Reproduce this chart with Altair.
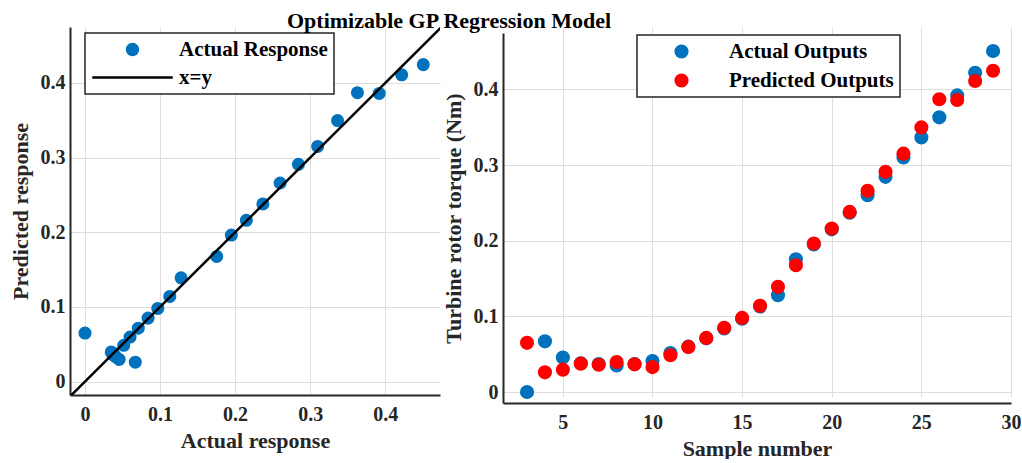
import altair as alt
import pandas as pd

BLUE = "#0072BD"
RED = "#FF0000"
FONT = "Liberation Serif"

samples = list(range(3, 30))
actual = [0.000, 0.067, 0.0455, 0.038, 0.037, 0.035, 0.037, 0.041, 0.0516, 0.060,
          0.071, 0.084, 0.097, 0.113, 0.128, 0.1755, 0.195, 0.215, 0.237, 0.260,
          0.2844, 0.310, 0.3365, 0.363, 0.392, 0.422, 0.4507]
predicted = [0.065, 0.026, 0.0296, 0.0375, 0.036, 0.0397, 0.0366, 0.033, 0.0486, 0.0596,
             0.0715, 0.085, 0.098, 0.114, 0.139, 0.1676, 0.1963, 0.216, 0.238, 0.266,
             0.291, 0.315, 0.3497, 0.387, 0.386, 0.411, 0.4246]

left_x_ticks = [0, 0.1, 0.2, 0.3, 0.4]
left_y_ticks = [0, 0.1, 0.2, 0.3, 0.4]
right_x_ticks = [5, 10, 15, 20, 25, 30]
right_y_ticks = [0, 0.1, 0.2, 0.3, 0.4]
left_x_domain = [-0.02, 0.473]
left_y_domain = [-0.018, 0.475]
right_x_domain = [1.66, 30]
right_y_domain = [-0.0145, 0.4745]
ref_line = [-0.02, 0.48]

left_names = ["Actual Response", "x=y"]
right_names = ["Actual Outputs", "Predicted Outputs"]
LINE_SYMBOL = "M-6,-0.19L6,-0.19L6,0.19L-6,0.19Z"

left_df = pd.DataFrame({"actual": actual, "predicted": predicted,
                        "series": [left_names[0]] * len(actual)})
line_df = pd.DataFrame({"x": ref_line, "y": ref_line})
right_df = pd.DataFrame({
    "sample": samples + samples,
    "value": actual + predicted,
    "series": [right_names[0]] * len(samples) + [right_names[1]] * len(samples),
})

lx = alt.Scale(domain=left_x_domain, nice=False, zero=False)
ly = alt.Scale(domain=left_y_domain, nice=False, zero=False)

left_legend = alt.Legend(title=None, orient="none", legendX=15, legendY=6,
                         symbolOffset=31, labelOffset=36, rowPadding=6, symbolSize=180)

pts = alt.Chart(left_df).mark_point(filled=True, opacity=1, size=170, strokeWidth=0).encode(
    x=alt.X("actual:Q", scale=lx, axis=alt.Axis(values=left_x_ticks, format="~g"), title="Actual response"),
    y=alt.Y("predicted:Q", scale=ly, axis=alt.Axis(values=left_y_ticks, format="~g"), title="Predicted response"),
    color=alt.Color("series:N", scale=alt.Scale(domain=left_names, range=[BLUE, "#000000"]), legend=left_legend),
    shape=alt.Shape("series:N", scale=alt.Scale(domain=left_names, range=["circle", LINE_SYMBOL]), legend=left_legend),
)
line = alt.Chart(line_df).mark_line(color="black", strokeWidth=2.5, clip=True).encode(
    x=alt.X("x:Q", scale=lx, title="Actual response"),
    y=alt.Y("y:Q", scale=ly, title="Predicted response"),
)
left = alt.layer(pts, line).properties(width=370, height=368)

RIGHT_H = 376
right = alt.Chart(right_df).mark_point(filled=True, opacity=1, size=200, strokeWidth=0).encode(
    x=alt.X("sample:Q", scale=alt.Scale(domain=right_x_domain, nice=False, zero=False),
            axis=alt.Axis(values=right_x_ticks, labelFlush=False), title="Sample number"),
    y=alt.Y("value:Q", scale=alt.Scale(domain=right_y_domain, nice=False, zero=False, range=[RIGHT_H, 6]),
            axis=alt.Axis(values=right_y_ticks, format="~g"), title="Turbine rotor torque (Nm)"),
    color=alt.Color("series:N", scale=alt.Scale(domain=right_names, range=[BLUE, RED]),
                    legend=alt.Legend(title=None, orient="none", legendX=134, legendY=8,
                                      symbolOffset=28, labelOffset=37, rowPadding=7, symbolSize=200)),
).properties(width=508, height=RIGHT_H)

chart = alt.hconcat(left, right, spacing=2).resolve_scale(
    color="independent", shape="independent"
).properties(
    title=alt.TitleParams("Optimizable GP Regression Model", anchor="start", dx=278, offset=-6,
                          fontSize=22, font=FONT, fontWeight="bold", color="black"),
    padding={"left": 9, "top": 10, "right": 0, "bottom": 0},
).configure_axis(
    labelFont=FONT, labelFontSize=20, labelFontWeight="bold", labelColor="#262626",
    titleFont=FONT, titleFontSize=22, titleFontWeight="bold", titleColor="#262626",
    domainColor="#262626", domainWidth=2, gridColor="#dedede", gridWidth=1, ticks=False,
).configure_axisX(labelPadding=9, titlePadding=6).configure_axisY(
    labelPadding=5, titlePadding=8
).configure_legend(
    labelFont=FONT, labelFontSize=21, labelFontWeight="bold", labelColor="black",
    strokeColor="#262626", strokeWidth=1.5, fillColor="white", padding=6,
    symbolStrokeWidth=0, symbolOpacity=1, labelLimit=0,
).configure_view(stroke=None)

chart.save("out.html", embed_options={"renderer": "svg", "actions": False})
